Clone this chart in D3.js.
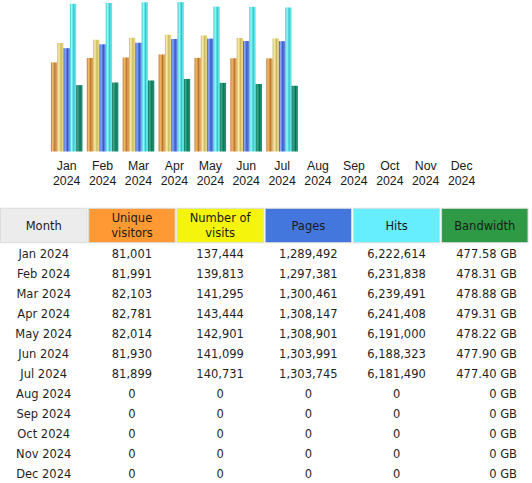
<!DOCTYPE html>
<html>
<head>
<meta charset="utf-8">
<script src="https://cdn.jsdelivr.net/npm/d3@7"></script>
<style>
  html, body { margin: 0; padding: 0; background: #fff; }
  svg { display: block; font-family: "DejaVu Sans", sans-serif; }
</style>
</head>
<body>
<svg id="chart" width="532" height="483"></svg>
<script>
// ---- data ----
const months = ["Jan", "Feb", "Mar", "Apr", "May", "Jun", "Jul", "Aug", "Sep", "Oct", "Nov", "Dec"];
const year = "2024";
const uniqueVisitors = [81001, 81991, 82103, 82781, 82014, 81930, 81899, 0, 0, 0, 0, 0];
const visits = [137444, 139813, 141295, 143444, 142901, 141099, 140731, 0, 0, 0, 0, 0];
const pages = [1289492, 1297381, 1300461, 1308147, 1308901, 1303991, 1303745, 0, 0, 0, 0, 0];
const hits = [6222614, 6231838, 6239491, 6241408, 6191000, 6188323, 6181490, 0, 0, 0, 0, 0];
const bandwidthGB = [477.58, 478.31, 478.88, 479.31, 478.22, 477.90, 477.40, 0, 0, 0, 0, 0];
const headers = ["Month", "Unique visitors", "Number of visits", "Pages", "Hits", "Bandwidth"];

// ---- setup ----
const svg = d3.select("#chart");
const seriesKeys = ["visitors", "visits", "pages", "hits", "bandwidth"];
const seriesData = { visitors: uniqueVisitors, visits: visits, pages: pages, hits: hits, bandwidth: bandwidthGB };
const barColors = {
  visitors: ["#b8722a", "#f2bc6c", "#dc9c4e"],
  visits:   ["#c9b45a", "#f8eaa6", "#e6d482"],
  pages:    ["#2f55c8", "#8eaaf4", "#5c80e4"],
  hits:     ["#2cc4cc", "#a4f6f6", "#62e4e6"],
  bandwidth:["#0e6f55", "#3aa88a", "#1f8f72"]
};
const baseY = 151.5;
// each series has its own value axis (as in the original graph)
const yDomains = {
  visitors: [61000, 95000],
  visits: [58600, 168700],
  pages: [1079700, 1387300],
  hits: [4566800, 6265200],
  bandwidth: [459.0, 501.4]
};
const yScales = {};
seriesKeys.forEach(k => {
  yScales[k] = d3.scaleLinear().domain(yDomains[k]).range([baseY, 0]).clamp(true);
});

const x0 = d3.scaleBand().domain(months).range([48.75, 479.55]).paddingInner(0.12).paddingOuter(0.06);
const x1 = d3.scaleBand().domain(seriesKeys).range([0, x0.bandwidth()]).padding(0);

// gradients for cylindrical look
const defs = svg.append("defs");
seriesKeys.forEach(k => {
  const c = barColors[k];
  const g = defs.append("linearGradient").attr("id", "g-" + k)
    .attr("x1", "0%").attr("x2", "100%").attr("y1", "0%").attr("y2", "0%");
  [[0, c[0]], [0.25, c[1]], [0.45, c[2]], [0.62, c[0]], [0.78, c[2]], [1, c[2]]].forEach(s => {
    g.append("stop").attr("offset", s[0]).attr("stop-color", s[1]);
  });
});

// bars
const groups = svg.append("g").selectAll("g").data(months).join("g")
  .attr("transform", d => `translate(${x0(d)},0)`);
groups.selectAll("rect")
  .data((m, i) => seriesKeys.map(k => ({ key: k, value: seriesData[k][i] })).filter(d => d.value > 0))
  .join("rect")
  .attr("x", d => x1(d.key))
  .attr("width", x1.bandwidth())
  .attr("y", d => yScales[d.key](d.value))
  .attr("height", d => baseY - yScales[d.key](d.value))
  .attr("fill", d => `url(#g-${d.key})`);

// x axis labels
const xAxis = d3.axisBottom(x0).tickSize(0).tickPadding(0);
const axG = svg.append("g").attr("transform", `translate(0,${baseY})`).call(xAxis);
axG.select(".domain").remove();
axG.selectAll(".tick text").remove();
axG.selectAll(".tick").append("text")
  .attr("text-anchor", "middle").attr("fill", "#1a1a1a").style("font-size", "12.3px")
  .each(function (d) {
    const t = d3.select(this);
    t.append("tspan").attr("x", 0).attr("y", 18.5).text(d);
    t.append("tspan").attr("x", 0).attr("y", 33).text(year);
  });

// ---- table ----
const colX = d3.scaleBand().domain(d3.range(6)).range([0.5, 528]).paddingInner(0.02).paddingOuter(0);
const headColors = ["#ececec", "#ff9933", "#f4f40c", "#4477dd", "#66eeff", "#2f9a45"];
const headTop = 208.3, headH = 34.4;
const hg = svg.append("g");
hg.selectAll("rect").data(headers).join("rect")
  .attr("x", (d, i) => colX(i)).attr("y", headTop)
  .attr("width", colX.bandwidth()).attr("height", headH)
  .attr("fill", (d, i) => headColors[i])
  .attr("stroke", "#dcdcdc").attr("stroke-width", 1);
hg.selectAll("text").data(headers).join("text")
  .attr("text-anchor", "middle").attr("fill", "#1a1a1a").style("font-size", "11.5px")
  .each(function (d, i) {
    const t = d3.select(this);
    const cx = colX(i) + colX.bandwidth() / 2;
    let lines = [d];
    if (d === "Unique visitors") lines = ["Unique", "visitors"];
    if (d === "Number of visits") lines = ["Number of", "visits"];
    const mid = headTop + headH / 2;
    lines.forEach((ln, j) => {
      const yc = mid + (j - (lines.length - 1) / 2) * 15;
      t.append("tspan").attr("x", cx).attr("y", yc + 4.2).text(ln);
    });
  });

const rowY = d3.scaleLinear().domain([0, 11]).range([253.4, 473.3]);
const fmtInt = d3.format(",");
const fmtGB = v => v === 0 ? "0 GB" : d3.format(".2f")(v) + " GB";
const rows = months.map((m, i) => [
  m + " " + year,
  fmtInt(uniqueVisitors[i]),
  fmtInt(visits[i]),
  fmtInt(pages[i]),
  fmtInt(hits[i]),
  fmtGB(bandwidthGB[i])
]);
const rg = svg.append("g").selectAll("g").data(rows).join("g");
rg.selectAll("text").data(d => d).join("text")
  .attr("x", (d, i) => i === 5 ? colX(i) + colX.bandwidth() - 11 : colX(i) + colX.bandwidth() / 2)
  .attr("text-anchor", (d, i) => i === 5 ? "end" : "middle")
  .attr("y", 0)
  .attr("fill", "#1f1f1f").style("font-size", "11.5px")
  .text(d => d);
rg.attr("transform", (d, i) => `translate(0,${rowY(i) + 4.2})`);
</script>
</body>
</html>
